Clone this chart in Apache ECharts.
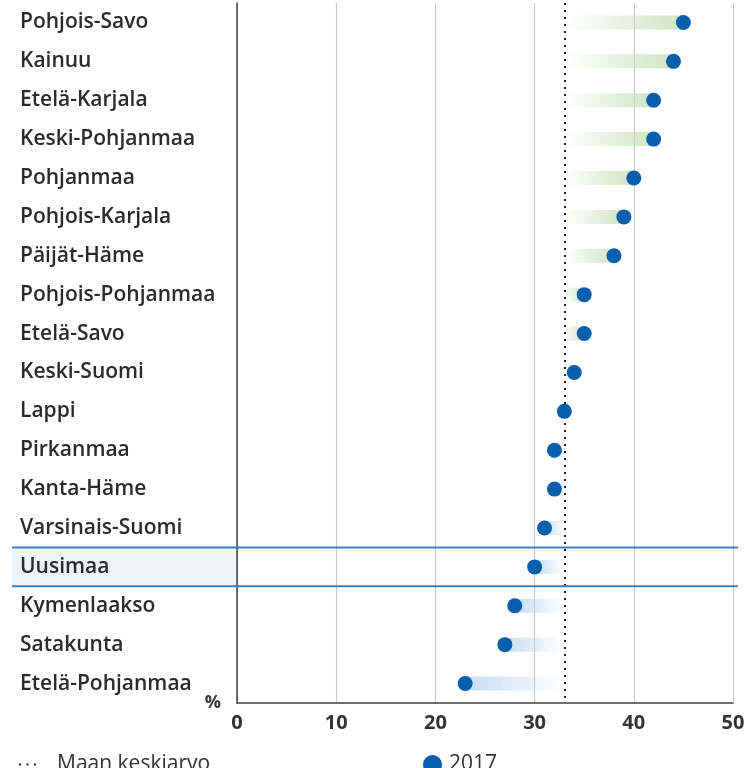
<!DOCTYPE html>
<html>
<head>
<meta charset="utf-8">
<script src="https://cdn.jsdelivr.net/npm/echarts@6/dist/echarts.min.js"></script>
<style>
  html, body { margin: 0; padding: 0; background: #fff; }
  #chart { width: 755px; height: 768px; }
</style>
</head>
<body>
<div id="chart"></div>
<script>
  // maakunnat, ylhäältä alas
  var regions = ['Pohjois-Savo', 'Kainuu', 'Etelä-Karjala', 'Keski-Pohjanmaa', 'Pohjanmaa',
    'Pohjois-Karjala', 'Päijät-Häme', 'Pohjois-Pohjanmaa', 'Etelä-Savo', 'Keski-Suomi',
    'Lappi', 'Pirkanmaa', 'Kanta-Häme', 'Varsinais-Suomi', 'Uusimaa', 'Kymenlaakso',
    'Satakunta', 'Etelä-Pohjanmaa'];
  var values2017 = [45, 44, 42, 42, 40, 39, 38, 35, 35, 34, 33, 32, 32, 31, 30, 28, 27, 23];
  var average = 33; // maan keskiarvo
  var xTicks = [0, 10, 20, 30, 40, 50];
  var highlighted = 'Uusimaa';

  var font = '"Open Sans", "Noto Sans", sans-serif';
  var dotColor = '#0a5fad';

  var chart = echarts.init(document.getElementById('chart'));

  var pairs = regions.map(function (r, i) { return [values2017[i], r]; });

  chart.setOption({
    animation: false,
    textStyle: { fontFamily: font },
    grid: { left: 237, right: 22, top: 3, bottom: 65 },
    legend: [
      {
        left: 14, top: 749,
        itemWidth: 17, itemHeight: 3,
        textStyle: { fontSize: 21, color: '#333', fontFamily: font, padding: [0, 0, 0, 16] },
        data: [{ name: 'Maan keskiarvo', icon: 'path://M0,0h2v2h-2zM7,0h2v2h-2zM14,0h2v2h-2z',
                 itemStyle: { color: '#222' } }],
        selectedMode: false
      },
      {
        left: 418, top: 749,
        itemWidth: 19, itemHeight: 19,
        textStyle: { fontSize: 21, color: '#333', fontFamily: font, padding: [0, 0, 0, 2] },
        data: [{ name: '2017', icon: 'circle' }],
        selectedMode: false
      }
    ],
    xAxis: {
      type: 'value', min: xTicks[0], max: xTicks[xTicks.length - 1], interval: 10,
      name: '%', nameLocation: 'start', nameGap: 16,
      nameTextStyle: { fontSize: 18, fontWeight: 'bold', color: '#333', verticalAlign: 'bottom',
                       padding: [0, 0, -9, 0] },
      axisLine: { show: true, lineStyle: { color: '#444', width: 1.5 } },
      axisTick: { show: false },
      axisLabel: { fontSize: 20, fontWeight: 'bold', color: '#333', margin: 10 },
      splitLine: { show: true, lineStyle: { color: '#c8c8c8', width: 1.2 } }
    },
    yAxis: {
      type: 'category', data: regions, inverse: true,
      axisLine: { show: true, lineStyle: { color: '#444', width: 1.5 } },
      axisTick: { show: false },
      axisLabel: { align: 'left', margin: 217, fontSize: 21, fontWeight: 600, color: '#2b2b2b',
                   padding: [8, 0, 0, 0] },
      splitLine: { show: false }
    },
    series: [
      {
        name: 'Maan keskiarvo',
        type: 'custom',
        data: pairs,
        encode: { x: 0, y: 1 },
        renderItem: function (params, api) {
          var v = api.value(0);
          var yi = api.value(1);
          var pA = api.coord([average, yi]);
          var pV = api.coord([v, yi]);
          var x0 = Math.min(pA[0], pV[0]);
          var w = Math.abs(pV[0] - pA[0]);
          var h = 14;
          var above = v >= average;
          var col = above ? 'rgba(200,225,185,' : 'rgba(190,215,240,';
          var grad = above
            ? new echarts.graphic.LinearGradient(0, 0, 1, 0, [
                { offset: 0, color: col + '0)' }, { offset: 1, color: col + '0.85)' }])
            : new echarts.graphic.LinearGradient(0, 0, 1, 0, [
                { offset: 0, color: col + '0.85)' }, { offset: 1, color: col + '0)' }]);
          return {
            type: 'rect',
            shape: { x: x0, y: pA[1] - h / 2, width: w, height: h },
            style: { fill: grad }
          };
        },
        markLine: {
          silent: true, symbol: 'none', label: { show: false },
          lineStyle: { color: '#222', type: [2, 5], width: 2 },
          data: [{ xAxis: average }]
        },
        z: 2
      },
      {
        name: '2017',
        type: 'scatter',
        data: pairs,
        symbolSize: 15,
        itemStyle: { color: dotColor, opacity: 1 },
        z: 5
      }
    ]
  });

  // korostettu rivi (Uusimaa)
  var yc = chart.convertToPixel({ yAxisIndex: 0 }, highlighted);
  var band = (768 - 65 - 3) / regions.length;
  var rowTop = yc - band / 2, rowBot = yc + band / 2;
  chart.setOption({
    graphic: [
      { type: 'rect', z: -10, silent: true,
        shape: { x: 12, y: rowTop, width: 225, height: band },
        style: { fill: '#eef3f8' } },
      { type: 'line', z: 10, silent: true,
        shape: { x1: 12, y1: rowTop, x2: 738, y2: rowTop },
        style: { stroke: '#3d7fb8', lineWidth: 2 } },
      { type: 'line', z: 10, silent: true,
        shape: { x1: 12, y1: rowBot, x2: 738, y2: rowBot },
        style: { stroke: '#3d7fb8', lineWidth: 2 } }
    ]
  });
</script>
</body>
</html>
